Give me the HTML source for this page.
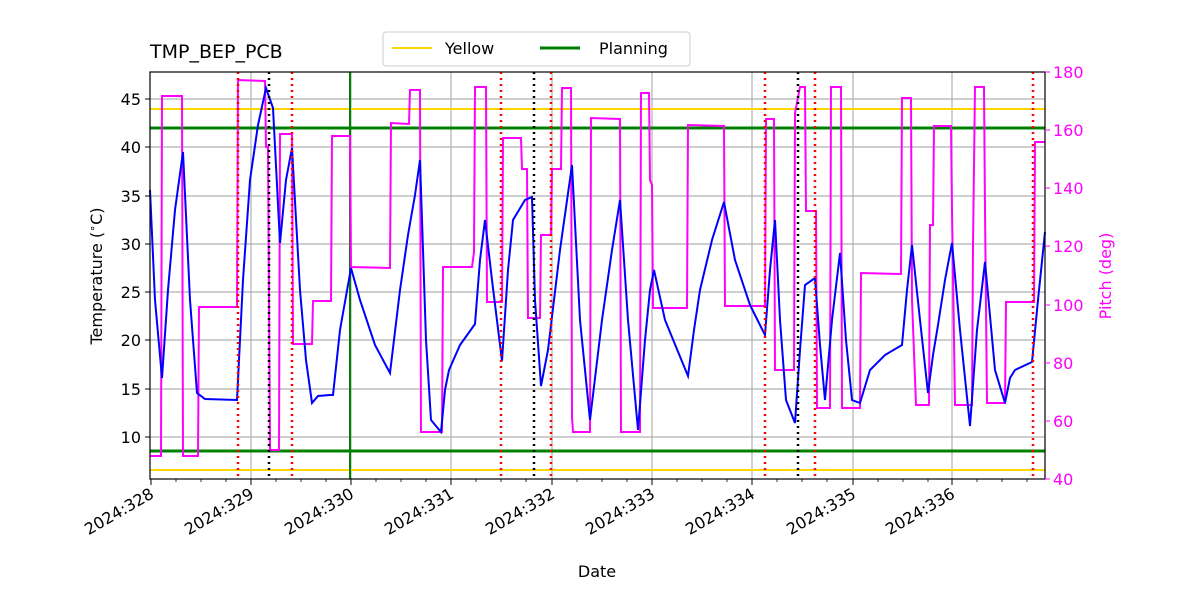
<!DOCTYPE html>
<html><head><meta charset="utf-8"><style>body{margin:0;background:#fff}svg{display:block}text{font-family:"DejaVu Sans","Liberation Sans",sans-serif}</style></head><body>
<svg width="1200" height="600" xmlns="http://www.w3.org/2000/svg">
<rect width="1200" height="600" fill="#fff"/>
<g stroke="#b0b0b0" stroke-width="1.2">
<line x1="251" y1="72" x2="251" y2="479"/><line x1="351" y1="72" x2="351" y2="479"/><line x1="451" y1="72" x2="451" y2="479"/><line x1="552" y1="72" x2="552" y2="479"/><line x1="652" y1="72" x2="652" y2="479"/><line x1="752" y1="72" x2="752" y2="479"/><line x1="853" y1="72" x2="853" y2="479"/><line x1="952" y1="72" x2="952" y2="479"/>
<line x1="150" y1="437" x2="1045" y2="437"/><line x1="150" y1="389" x2="1045" y2="389"/><line x1="150" y1="340" x2="1045" y2="340"/><line x1="150" y1="292" x2="1045" y2="292"/><line x1="150" y1="244" x2="1045" y2="244"/><line x1="150" y1="196" x2="1045" y2="196"/><line x1="150" y1="147" x2="1045" y2="147"/><line x1="150" y1="99" x2="1045" y2="99"/>
</g>
<g stroke="#ffd700" stroke-width="2"><line x1="150" y1="109" x2="1045" y2="109"/><line x1="150" y1="470" x2="1045" y2="470"/></g>
<g stroke="#008000" stroke-width="3"><line x1="150" y1="128" x2="1045" y2="128"/><line x1="150" y1="451" x2="1045" y2="451"/></g>
<line x1="350" y1="72" x2="350" y2="479" stroke="#008000" stroke-width="2"/>
<polyline fill="none" stroke="#ff00ff" stroke-width="2" points="150,456 161,456 162,96 182,96 183,456 198,456 199,307 237,307 238,80 265,81 266,147 268,147 270,450 276,450 279,450 280,134 292,134 293,344 312,344 313,301 331,301 332,136 350,136 351,267 390,268 391,123 409,124 410,90 420,90 421,432 442,432 443,267 472,267 474,252 475,87 486,87 487,302 502,302 503,138 521,138 522,169 527,169 528,318 540,318 541,235 551,235 552,169 561,169 562,88 571,88 572,417 573,432 590,432 591,118 620,119 621,432 640,432 641,93 649,93 650,180 652,185 653,308 687,308 688,125 724,126 725,306 765,306 766,119 774,119 775,370 794,370 795,113 800,87 805,87 806,211 816,211 817,408 830,408 831,87 841,87 842,408 860,408 861,273 901,274 902,98 911,98 912,300 916,405 929,405 930,225 933,225 934,126 951,126 952,210 955,405 972,405 973,245 975,87 984,87 985,210 987,403 1005,403 1006,302 1034,302 1035,142 1045,142"/>
<polyline fill="none" stroke="#0000ff" stroke-width="2" points="150,190 155,300 162,378 168,290 175,210 183,152 190,300 197,393 205,399 237,400 243,280 250,180 258,125 266,88 273,108 280,243 286,180 292,148 300,290 306,360 312,403 318,396 330,395 333,395 340,330 351,268 360,300 375,345 390,373 400,290 408,235 415,195 420,160 426,340 431,420 441,432 445,390 449,370 460,345 475,324 480,260 485,220 492,280 502,361 508,270 513,220 525,200 532,197 535,300 541,386 548,350 560,250 572,165 580,320 590,420 596,370 602,320 612,250 620,200 628,320 638,430 645,340 650,290 654,270 665,320 688,376 694,330 700,290 712,240 724,202 735,260 750,305 760,325 765,335 770,270 775,220 780,320 786,400 795,423 800,350 805,285 815,278 820,345 825,400 832,320 840,253 846,340 852,400 860,403 870,370 885,355 902,345 907,290 912,245 920,320 928,393 933,355 938,325 945,280 952,243 960,330 970,426 977,330 985,262 995,370 1005,403 1010,378 1015,370 1032,362 1038,300 1045,232"/>
<g stroke="#ff0000" stroke-width="2.5" stroke-dasharray="2,4"><line x1="238" y1="72" x2="238" y2="479"/><line x1="292" y1="72" x2="292" y2="479"/><line x1="501" y1="72" x2="501" y2="479"/><line x1="551" y1="72" x2="551" y2="479"/><line x1="765" y1="72" x2="765" y2="479"/><line x1="815" y1="72" x2="815" y2="479"/><line x1="1033" y1="72" x2="1033" y2="479"/></g>
<g stroke="#000" stroke-width="2.5" stroke-dasharray="2,4"><line x1="269" y1="72" x2="269" y2="479"/><line x1="534" y1="72" x2="534" y2="479"/><line x1="798" y1="72" x2="798" y2="479"/></g>
<rect x="150" y="72" width="895" height="407" fill="none" stroke="#000" stroke-width="1.2"/>
<g stroke="#000" stroke-width="1"><line x1="145" y1="437" x2="150" y2="437"/><line x1="145" y1="389" x2="150" y2="389"/><line x1="145" y1="340" x2="150" y2="340"/><line x1="145" y1="292" x2="150" y2="292"/><line x1="145" y1="244" x2="150" y2="244"/><line x1="145" y1="196" x2="150" y2="196"/><line x1="145" y1="147" x2="150" y2="147"/><line x1="145" y1="99" x2="150" y2="99"/>
<line x1="151" y1="479" x2="151" y2="485"/><line x1="251" y1="479" x2="251" y2="485"/><line x1="351" y1="479" x2="351" y2="485"/><line x1="451" y1="479" x2="451" y2="485"/><line x1="552" y1="479" x2="552" y2="485"/><line x1="652" y1="479" x2="652" y2="485"/><line x1="752" y1="479" x2="752" y2="485"/><line x1="853" y1="479" x2="853" y2="485"/><line x1="952" y1="479" x2="952" y2="485"/></g>
<g stroke="#000" stroke-width="0.8">
<line x1="176" y1="479" x2="176" y2="482"/><line x1="201" y1="479" x2="201" y2="482"/><line x1="226" y1="479" x2="226" y2="482"/><line x1="276" y1="479" x2="276" y2="482"/><line x1="301" y1="479" x2="301" y2="482"/><line x1="326" y1="479" x2="326" y2="482"/><line x1="376" y1="479" x2="376" y2="482"/><line x1="401" y1="479" x2="401" y2="482"/><line x1="426" y1="479" x2="426" y2="482"/><line x1="476" y1="479" x2="476" y2="482"/><line x1="501" y1="479" x2="501" y2="482"/><line x1="526" y1="479" x2="526" y2="482"/><line x1="577" y1="479" x2="577" y2="482"/><line x1="602" y1="479" x2="602" y2="482"/><line x1="627" y1="479" x2="627" y2="482"/><line x1="677" y1="479" x2="677" y2="482"/><line x1="702" y1="479" x2="702" y2="482"/><line x1="727" y1="479" x2="727" y2="482"/><line x1="777" y1="479" x2="777" y2="482"/><line x1="802" y1="479" x2="802" y2="482"/><line x1="827" y1="479" x2="827" y2="482"/><line x1="878" y1="479" x2="878" y2="482"/><line x1="903" y1="479" x2="903" y2="482"/><line x1="928" y1="479" x2="928" y2="482"/><line x1="977" y1="479" x2="977" y2="482"/><line x1="1002" y1="479" x2="1002" y2="482"/><line x1="1027" y1="479" x2="1027" y2="482"/></g>
<g stroke="#ff00ff"><line x1="1045" y1="72" x2="1050" y2="72"/><line x1="1045" y1="130" x2="1050" y2="130"/><line x1="1045" y1="188" x2="1050" y2="188"/><line x1="1045" y1="246" x2="1050" y2="246"/><line x1="1045" y1="305" x2="1050" y2="305"/><line x1="1045" y1="363" x2="1050" y2="363"/><line x1="1045" y1="421" x2="1050" y2="421"/><line x1="1045" y1="479" x2="1050" y2="479"/></g>
<g font-size="16" text-anchor="end"><text x="141" y="443">10</text><text x="141" y="395">15</text><text x="141" y="346">20</text><text x="141" y="298">25</text><text x="141" y="250">30</text><text x="141" y="202">35</text><text x="141" y="153">40</text><text x="141" y="105">45</text></g>
<g font-size="16" fill="#ff00ff"><text x="1053" y="78">180</text><text x="1053" y="136">160</text><text x="1053" y="194">140</text><text x="1053" y="252">120</text><text x="1053" y="311">100</text><text x="1053" y="369">80</text><text x="1053" y="427">60</text><text x="1053" y="485">40</text></g>
<g font-size="16" text-anchor="end">
<text transform="translate(155,497) rotate(-30)">2024:328</text><text transform="translate(255,497) rotate(-30)">2024:329</text><text transform="translate(355,497) rotate(-30)">2024:330</text><text transform="translate(455,497) rotate(-30)">2024:331</text><text transform="translate(556,497) rotate(-30)">2024:332</text><text transform="translate(656,497) rotate(-30)">2024:333</text><text transform="translate(756,497) rotate(-30)">2024:334</text><text transform="translate(857,497) rotate(-30)">2024:335</text><text transform="translate(956,497) rotate(-30)">2024:336</text></g>
<text x="597" y="577" font-size="16" text-anchor="middle">Date</text>
<text transform="translate(102,276) rotate(-90)" font-size="16" text-anchor="middle">Temperature (<tspan font-size="11" dy="-6">∘</tspan><tspan dy="6">C)</tspan></text>
<text transform="translate(1111,276) rotate(-90)" font-size="16" fill="#ff00ff" text-anchor="middle">Pitch (deg)</text>
<text x="150" y="58" font-size="19">TMP_BEP_PCB</text>
<rect x="383" y="32" width="307" height="34" rx="3" fill="#fff" stroke="#ccc"/>
<line x1="392" y1="48" x2="432" y2="48" stroke="#ffd700" stroke-width="2"/><text x="445" y="54" font-size="16">Yellow</text>
<line x1="540" y1="48" x2="580" y2="48" stroke="#008000" stroke-width="3"/><text x="599" y="54" font-size="16">Planning</text>
</svg>
</body></html>
